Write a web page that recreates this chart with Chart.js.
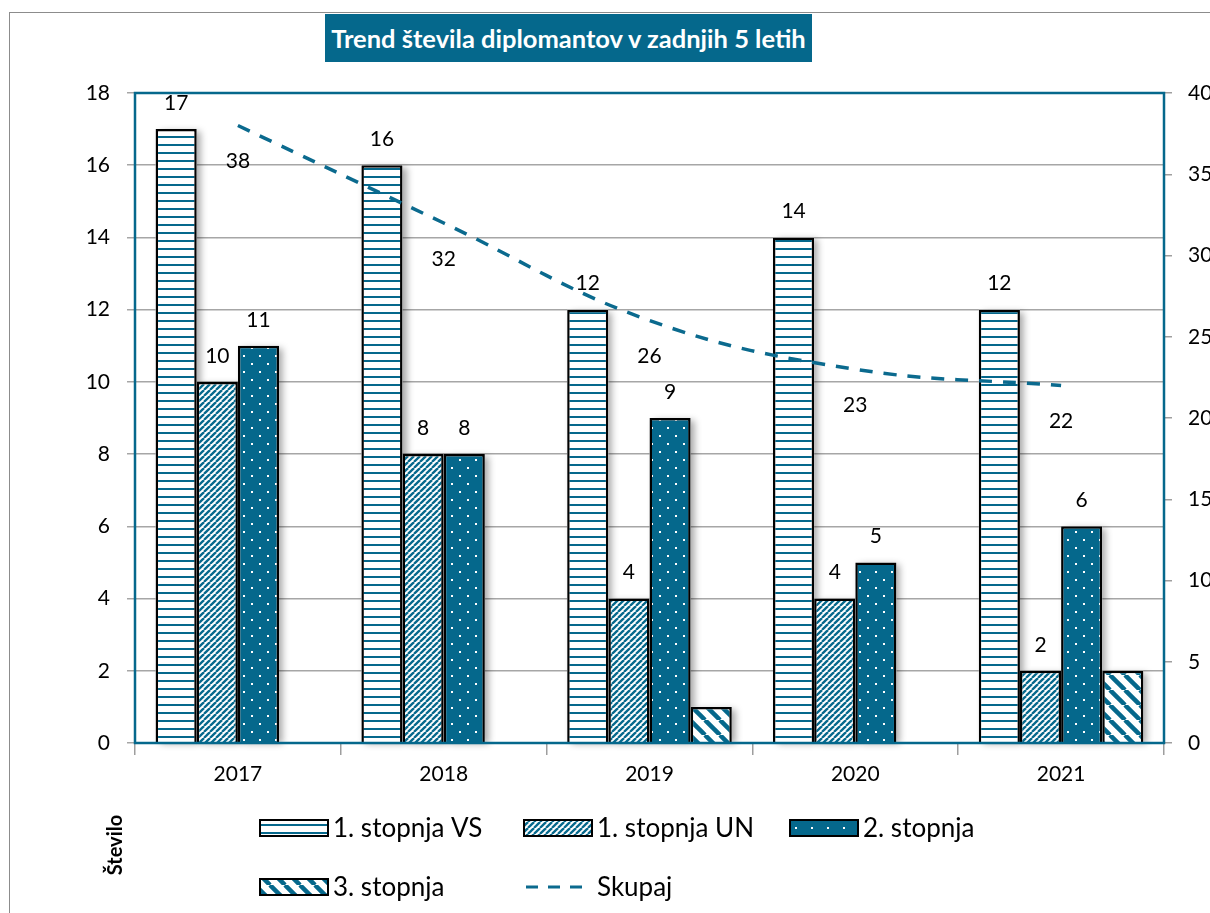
<!DOCTYPE html>
<html>
<head>
<meta charset="utf-8">
<script src="https://cdn.jsdelivr.net/npm/chart.js@4.4.1/dist/chart.umd.min.js"></script>
<style>
  body { margin: 0; width: 1210px; height: 913px; overflow: hidden; background: #fff; font-family: Lato, sans-serif; }
  #frame { position: absolute; left: 9px; top: 12px; width: 1400px; height: 1100px; border: 1.5px solid #8c8c8c; }
  #title { position: absolute; left: 325px; top: 14px; width: 487px; height: 48px; background: #05688c; color: #fff;
           font: bold 25.5px Lato, sans-serif; line-height: 48px; text-align: center; white-space: nowrap; }
  #chart { position: absolute; left: 0; top: 0; }
</style>
</head>
<body>
<div id="frame"></div>
<canvas id="chart" width="1240" height="913"></canvas>
<div id="title">Trend števila diplomantov v zadnjih 5 letih</div>
<script>
const years = ["2017", "2018", "2019", "2020", "2021"];
const first_vs = [17, 16, 12, 14, 12];
const first_un = [10, 8, 4, 4, 2];
const second_level = [11, 8, 9, 5, 6];
const third_level = [0, 0, 1, 0, 2];
const total = [38, 32, 26, 23, 22];
const left_ticks = [0, 2, 4, 6, 8, 10, 12, 14, 16, 18];
const right_ticks = [0, 5, 10, 15, 20, 25, 30, 35, 40];

const teal = "#05688c";
const fontFam = "Lato, sans-serif";

function makePattern(size, draw) {
  const c = document.createElement("canvas");
  c.width = size;
  c.height = size;
  const g = c.getContext("2d");
  draw(g, size);
  return g.createPattern(c, "repeat");
}

const pat_vs = makePattern(8, (g, s) => {
  g.fillStyle = "#fff";
  g.fillRect(0, 0, s, s);
  g.fillStyle = teal;
  g.fillRect(0, 0, s, 2);
});
const pat_un = makePattern(6, (g, s) => {
  g.fillStyle = "#fff";
  g.fillRect(0, 0, s, s);
  g.strokeStyle = teal;
  g.lineWidth = 2.3;
  for (const k of [-s, 0, s]) {
    g.beginPath();
    g.moveTo(k, s);
    g.lineTo(k + s, 0);
    g.stroke();
  }
});
const pat_second = makePattern(16, (g, s) => {
  g.fillStyle = teal;
  g.fillRect(0, 0, s, s);
  g.fillStyle = "#fff";
  g.fillRect(3, 3, 2, 2);
  g.fillRect(11, 11, 2, 2);
});
const pat_third = makePattern(15, (g, s) => {
  g.fillStyle = "#fff";
  g.fillRect(0, 0, s, s);
  g.strokeStyle = teal;
  g.lineWidth = 4.5;
  for (const k of [-s, 0, s]) {
    g.beginPath();
    g.moveTo(k, 0);
    g.lineTo(k + s, s);
    g.stroke();
  }
});

// drop shadow behind bars
const barShadow = {
  id: "barShadow",
  beforeDatasetsDraw(chart) {
    const ctx = chart.ctx;
    ctx.save();
    ctx.shadowColor = "rgba(0,0,0,0.35)";
    ctx.shadowBlur = 7;
    ctx.shadowOffsetX = 4;
    ctx.shadowOffsetY = 2;
    ctx.fillStyle = "#fff";
    chart.data.datasets.forEach((ds, i) => {
      const meta = chart.getDatasetMeta(i);
      if (meta.type !== "bar") return;
      meta.data.forEach((bar) => {
        const h = bar.base - bar.y;
        if (h <= 0) return;
        ctx.fillRect(bar.x - bar.width / 2, bar.y, bar.width, h);
      });
    });
    ctx.restore();
  },
};

const extras = {
  id: "extras",
  afterDatasetsDraw(chart) {
    const ctx = chart.ctx;
    const a = chart.chartArea;
    ctx.save();
    // plot border
    ctx.strokeStyle = teal;
    ctx.lineWidth = 2.5;
    ctx.strokeRect(a.left, a.top, a.right - a.left, a.bottom - a.top);

    // value labels
    ctx.fillStyle = "#000";
    ctx.font = "21px " + fontFam;
    ctx.textAlign = "center";
    ctx.textBaseline = "middle";
    chart.data.datasets.forEach((ds, i) => {
      if (!ds.showLabels) return;
      const meta = chart.getDatasetMeta(i);
      meta.data.forEach((el, j) => {
        const v = ds.data[j];
        if (!v) return;
        const dy = meta.type === "bar" ? -26 : 36;
        ctx.fillText(String(v), el.x, el.y + dy);
      });
    });

    // axis title
    ctx.save();
    ctx.translate(116, 845);
    ctx.rotate(-Math.PI / 2);
    ctx.font = "bold 20px " + fontFam;
    ctx.fillText("Število", 0, 0);
    ctx.restore();

    // legend
    const cols = [260, 524, 790];
    const rows = [828, 887];
    ctx.font = "26px " + fontFam;
    ctx.textAlign = "left";
    chart.data.datasets.forEach((ds, i) => {
      const x = cols[i % 3];
      const y = rows[Math.floor(i / 3)];
      if (ds.type === "line") {
        ctx.strokeStyle = ds.borderColor;
        ctx.lineWidth = 3;
        ctx.setLineDash([12, 10]);
        ctx.beginPath();
        ctx.moveTo(x + 2, y);
        ctx.lineTo(x + 68, y);
        ctx.stroke();
        ctx.setLineDash([]);
      } else {
        ctx.fillStyle = ds.backgroundColor;
        ctx.fillRect(x, y - 8, 68, 16);
        ctx.strokeStyle = "#000";
        ctx.lineWidth = 2;
        ctx.strokeRect(x, y - 8, 68, 16);
      }
      ctx.fillStyle = "#000";
      ctx.fillText(ds.label, x + 73, y + 1);
    });
    ctx.restore();
  },
};

const tickFont = { family: fontFam, size: 21 };

new Chart(document.getElementById("chart"), {
  type: "bar",
  data: {
    labels: years,
    datasets: [
      {
        label: "1. stopnja VS",
        data: first_vs,
        backgroundColor: pat_vs,
        borderColor: "#000",
        borderWidth: 2.5,
        showLabels: true,
      },
      {
        label: "1. stopnja UN",
        data: first_un,
        backgroundColor: pat_un,
        borderColor: "#000",
        borderWidth: 2.5,
        showLabels: true,
      },
      {
        label: "2. stopnja",
        data: second_level,
        backgroundColor: pat_second,
        borderColor: "#000",
        borderWidth: 2.5,
        showLabels: true,
      },
      {
        label: "3. stopnja",
        data: third_level,
        backgroundColor: pat_third,
        borderColor: "#000",
        borderWidth: 2.5,
        showLabels: false,
      },
      {
        type: "line",
        label: "Skupaj",
        data: total,
        yAxisID: "y2",
        borderColor: "#0b6a8e",
        borderWidth: 3.5,
        borderDash: [13, 11],
        tension: 0.4,
        pointRadius: 0,
        fill: false,
        order: -1,
        showLabels: true,
      },
    ],
  },
  options: {
    responsive: false,
    animation: false,
    devicePixelRatio: 1,
    layout: { padding: { top: 93, left: 0, right: 0, bottom: 0 } },
    datasets: { bar: { categoryPercentage: 0.8, barPercentage: 1 } },
    plugins: { legend: { display: false }, title: { display: false }, tooltip: { enabled: false } },
    scales: {
      x: {
        grid: { offset: true, drawOnChartArea: false, tickLength: 12, color: "#9e9e9e", lineWidth: 1.5 },
        border: { display: false },
        ticks: { font: tickFont, color: "#000", padding: 7 },
        afterFit: (s) => { s.height = 170; },
      },
      y: {
        min: 0,
        max: 18,
        afterBuildTicks: (s) => { s.ticks = left_ticks.map((v) => ({ value: v })); },
        grid: { color: "#a6a6a6", lineWidth: 1.5, tickLength: 8 },
        border: { display: false },
        ticks: { font: tickFont, color: "#000", padding: 17 },
        afterFit: (s) => { s.width = 135; },
      },
      y2: {
        position: "right",
        min: 0,
        max: 40,
        afterBuildTicks: (s) => { s.ticks = right_ticks.map((v) => ({ value: v })); },
        grid: { drawOnChartArea: false, color: "#9e9e9e", lineWidth: 1.5, tickLength: 8 },
        border: { display: false },
        ticks: { font: tickFont, color: "#000", padding: 16 },
        afterFit: (s) => { s.width = 76; },
      },
    },
  },
  plugins: [barShadow, extras],
});
</script>
</body>
</html>
